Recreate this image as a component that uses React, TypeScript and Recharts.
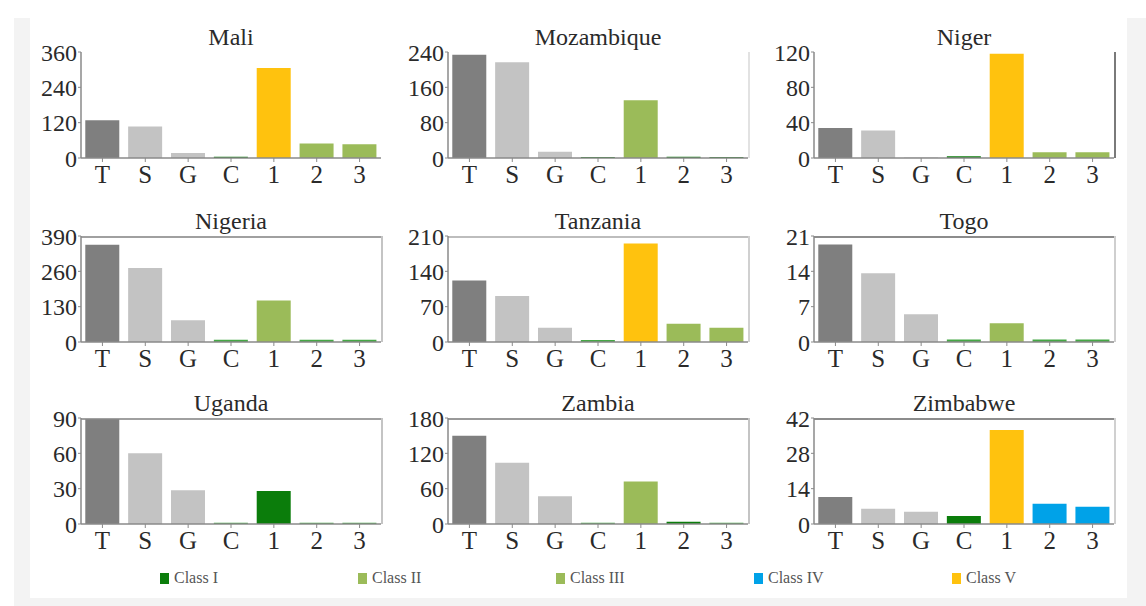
import React from 'react';
import { BarChart, Bar, XAxis, YAxis, Cell } from 'recharts';

const categories = ['T', 'S', 'G', 'C', '1', '2', '3'];

const maliValues = [128, 107, 17, 4, 306, 49, 47];
const mozambiqueValues = [234, 217, 14, 2, 131, 3, 2];
const nigerValues = [34, 31, 0.6, 2, 118, 6.5, 6.5];
const nigeriaValues = [358, 272, 80, 8, 153, 8, 8];
const tanzaniaValues = [122, 91, 28, 4, 195, 36, 28];
const togoValues = [19.3, 13.6, 5.5, 0.5, 3.7, 0.5, 0.5];
const ugandaValues = [89, 60, 28.7, 1, 28, 1, 1];
const zambiaValues = [150, 104, 47, 2, 72, 4, 2];
const zimbabweValues = [10.7, 6, 4.9, 3.2, 37.2, 8, 6.8];

const maliClasses = ['T', 'S', 'S', 'I', 'V', 'II', 'III'];
const mozambiqueClasses = ['T', 'S', 'S', 'I', 'II', 'I', 'I'];
const nigerClasses = ['T', 'S', 'S', 'I', 'V', 'II', 'III'];
const nigeriaClasses = ['T', 'S', 'S', 'm', 'II', 'm', 'm'];
const tanzaniaClasses = ['T', 'S', 'S', 'm', 'V', 'II', 'III'];
const togoClasses = ['T', 'S', 'S', 'm', 'II', 'm', 'm'];
const ugandaClasses = ['T', 'S', 'S', 'm', 'I', 'm', 'm'];
const zambiaClasses = ['T', 'S', 'S', 'm', 'II', 'I', 'm'];
const zimbabweClasses = ['T', 'S', 'S', 'I', 'V', 'IV', 'IV'];

const maliTicks = [0, 120, 240, 360];
const mozambiqueTicks = [0, 80, 160, 240];
const nigerTicks = [0, 40, 80, 120];
const nigeriaTicks = [0, 130, 260, 390];
const tanzaniaTicks = [0, 70, 140, 210];
const togoTicks = [0, 7, 14, 21];
const ugandaTicks = [0, 30, 60, 90];
const zambiaTicks = [0, 60, 120, 180];
const zimbabweTicks = [0, 14, 28, 42];

const legendKeys = ['I', 'II', 'III', 'IV', 'V'];
const legendLabels = ['Class I', 'Class II', 'Class III', 'Class IV', 'Class V'];

const colors: Record<string, string> = {
  T: '#7f7f7f',
  S: '#c3c3c3',
  I: '#0b7d0b',
  m: '#45a845',
  II: '#9bbb59',
  III: '#9bbb59',
  IV: '#00a2e8',
  V: '#ffc20e',
};

const FONT = '"Liberation Serif", "Times New Roman", serif';
const AXIS = '#8a8a8a';

interface PanelProps {
  title: string;
  values: number[];
  classes: string[];
  ticks: number[];
  axisX: number;
  topY: number;
  frameTop?: string;
  frameRight?: string;
}

const PLOT_W = 300;
const PLOT_H = 106;

const Panel: React.FC<PanelProps> = ({ title, values, classes, ticks, axisX, topY, frameTop, frameRight }) => {
  const data = categories.map((c, i) => ({ name: c, value: values[i], cls: classes[i] }));
  return (
    <div style={{ position: 'absolute', left: axisX - 60, top: topY - 45, width: 368, height: 185 }}>
      <div
        style={{
          position: 'absolute', left: 60, top: 18, width: PLOT_W, textAlign: 'center',
          fontFamily: FONT, fontSize: 24, lineHeight: '24px', color: '#2a2a2a',
        }}
      >
        {title}
      </div>
      {frameTop && (
        <div style={{ position: 'absolute', left: 60, top: 45, width: PLOT_W, height: 0, borderTop: `2px solid ${frameTop}` }} />
      )}
      {frameRight && (
        <div style={{ position: 'absolute', left: 60 + PLOT_W, top: 45, width: 0, height: PLOT_H, borderLeft: `2px solid ${frameRight}` }} />
      )}
      <BarChart
        width={368}
        height={185}
        data={data}
        margin={{ top: 45, right: 8, bottom: 4, left: 0 }}
        barCategoryGap="10%"
      >
        <XAxis
          dataKey="name"
          interval={0}
          height={30}
          tickSize={4}
          tickMargin={3}
          axisLine={{ stroke: AXIS, strokeWidth: 1.5 }}
          tickLine={{ stroke: AXIS }}
          tick={{ fontSize: 25, fill: '#2a2a2a', fontFamily: FONT }}
        />
        <YAxis
          width={60}
          domain={[0, ticks[ticks.length - 1]]}
          ticks={ticks}
          interval={0}
          tickSize={3}
          tickMargin={1}
          axisLine={{ stroke: AXIS, strokeWidth: 1.5 }}
          tickLine={{ stroke: AXIS }}
          tick={{ fontSize: 24, fill: '#2a2a2a', fontFamily: FONT }}
        />
        <Bar dataKey="value" isAnimationActive={false}>
          {data.map((d, i) => (
            <Cell key={i} fill={colors[d.cls]} />
          ))}
        </Bar>
      </BarChart>
    </div>
  );
};

const cols = [81, 448, 814];
const rows = [52, 236, 418];

export default function App() {
  return (
    <div style={{ position: 'absolute', left: 0, top: 0, width: 1146, height: 606, background: '#fff', overflow: 'hidden' }}>
      <div style={{ position: 'absolute', left: 14, top: 18, right: 0, bottom: 0, background: '#f3f3f3' }} />
      <div style={{ position: 'absolute', left: 30, top: 18, width: 1097, height: 580, background: '#fff' }} />
      <div style={{ position: 'absolute', left: 30, top: 0, width: 1097, height: 20, background: '#fff' }} />

      <Panel title="Mali" values={maliValues} classes={maliClasses} ticks={maliTicks} axisX={cols[0]} topY={rows[0]} />
      <Panel title="Mozambique" values={mozambiqueValues} classes={mozambiqueClasses} ticks={mozambiqueTicks} axisX={cols[1]} topY={rows[0]} frameRight="#e2e2e2" />
      <Panel title="Niger" values={nigerValues} classes={nigerClasses} ticks={nigerTicks} axisX={cols[2]} topY={rows[0]} frameRight="#7a7a7a" />

      <Panel title="Nigeria" values={nigeriaValues} classes={nigeriaClasses} ticks={nigeriaTicks} axisX={cols[0]} topY={rows[1]} frameTop="#a0a0a0" frameRight="#c4c4c4" />
      <Panel title="Tanzania" values={tanzaniaValues} classes={tanzaniaClasses} ticks={tanzaniaTicks} axisX={cols[1]} topY={rows[1]} frameTop="#bdbdbd" frameRight="#d0d0d0" />
      <Panel title="Togo" values={togoValues} classes={togoClasses} ticks={togoTicks} axisX={cols[2]} topY={rows[1]} frameTop="#8c8c8c" frameRight="#cfcfcf" />

      <Panel title="Uganda" values={ugandaValues} classes={ugandaClasses} ticks={ugandaTicks} axisX={cols[0]} topY={rows[2]} frameTop="#a0a0a0" frameRight="#c4c4c4" />
      <Panel title="Zambia" values={zambiaValues} classes={zambiaClasses} ticks={zambiaTicks} axisX={cols[1]} topY={rows[2]} frameTop="#999" frameRight="#c4c4c4" />
      <Panel title="Zimbabwe" values={zimbabweValues} classes={zimbabweClasses} ticks={zimbabweTicks} axisX={cols[2]} topY={rows[2]} frameTop="#8c8c8c" frameRight="#d0d0d0" />

      {legendKeys.map((k, i) => (
        <div
          key={k}
          style={{
            position: 'absolute', left: 160 + i * 198, top: 569, height: 18, display: 'flex', alignItems: 'center',
            fontFamily: FONT, fontSize: 16, color: '#555',
          }}
        >
          <span style={{ display: 'inline-block', width: 9, height: 11, background: colors[k], marginRight: 5 }} />
          {legendLabels[i]}
        </div>
      ))}
    </div>
  );
}
